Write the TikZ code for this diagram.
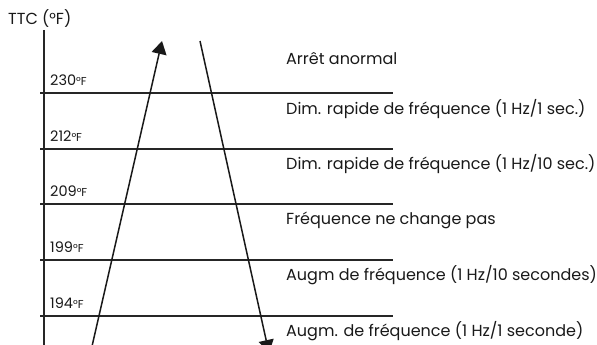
\documentclass[tikz,border=0pt]{standalone}
\usepackage{fontspec}
\setmainfont{Poppins}
\usetikzlibrary{arrows.meta}
\begin{document}
\begin{tikzpicture}[x=1pt,y=-1pt,
  axisline/.style={line width=1.4pt,black!85},
  levelline/.style={line width=1.4pt,black!85},
  flow/.style={line width=1.5pt,black!90,-{Triangle[length=13pt,width=15pt]}},
  zone/.style={anchor=base west,inner sep=0pt,font=\fontsize{16}{19}\selectfont,text=black!90},
  temp/.style={anchor=base west,inner sep=0pt,font=\fontsize{14.5}{16}\selectfont,text=black!90}]
\useasboundingbox (0,0) rectangle (597,345);
\clip (0,0) rectangle (597,345);
% axis
\coordinate (atop) at (44,30);
\coordinate (abot) at (44,350);
\draw[axisline] (atop) -- (abot);
\node[anchor=base west,inner sep=0pt,font=\fontsize{16}{19}\selectfont,text=black!90] (ttc) at (8,25) {TTC (°F)};
% level lines
\foreach \n/\y in {l1/93,l2/149,l3/204,l4/260,l5/316}{
  \coordinate (\n w) at (40,\y);
  \coordinate (\n e) at (393,\y);
  \draw[levelline] (\n w) -- (\n e);
}
% temperature labels
\node[temp] (t230) at (50,85) {230{\fontsize{11.5}{12}\selectfont °F}};
\node[temp] (t212) at (50,141) {212{\fontsize{11.5}{12}\selectfont °F}};
\node[temp] (t209) at (50,196) {209{\fontsize{11.5}{12}\selectfont °F}};
\node[temp] (t199) at (50,252) {199{\fontsize{11.5}{12}\selectfont °F}};
\node[temp] (t194) at (50,308) {194{\fontsize{11.5}{12}\selectfont °F}};
% zone labels
\node[zone] (z1) at (286,64) {Arrêt anormal};
\node[zone] (z2) at (286,114) {Dim. rapide de fréquence (1 Hz/1 sec.)};
\node[zone] (z3) at (286,169) {Dim. rapide de fréquence (1 Hz/10 sec.)};
\node[zone] (z4) at (286,224) {Fréquence ne change pas};
\node[zone] (z5) at (286,280) {Augm de fréquence (1 Hz/10 secondes)};
\node[zone] (z6) at (286,336) {Augm. de fréquence (1 Hz/1 seconde)};
% arrows
\coordinate (ustart) at (90,355);
\coordinate (uend) at (162,41);
\coordinate (dstart) at (200,41);
\coordinate (dend) at (269,353);
\draw[flow] (ustart) -- (uend);
\draw[flow] (dstart) -- (dend);
\end{tikzpicture}
\end{document}
